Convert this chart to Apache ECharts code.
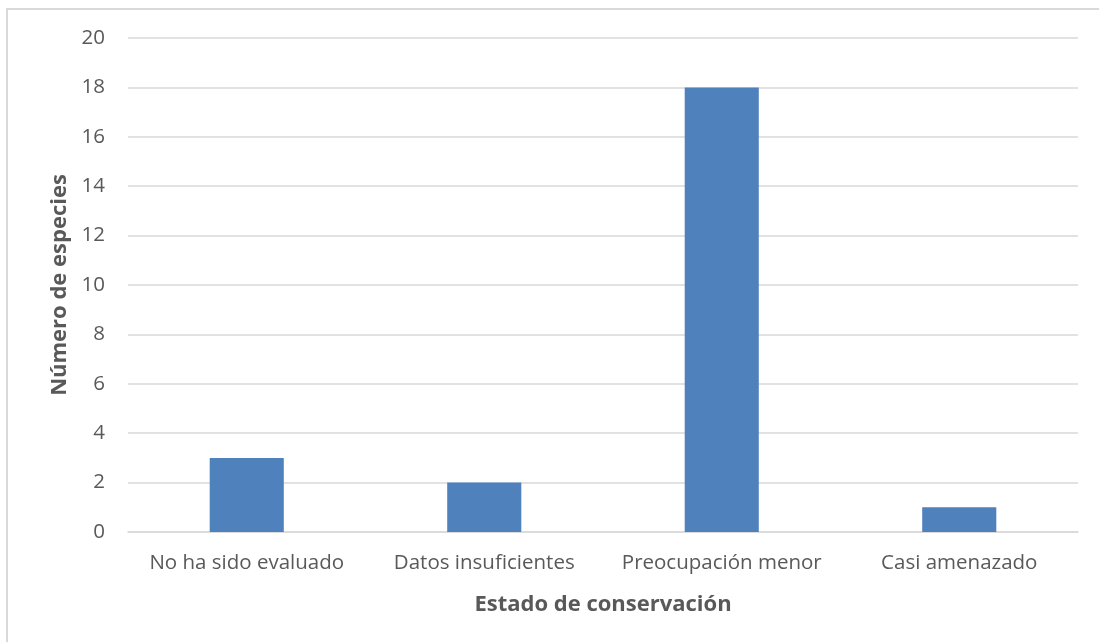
<!DOCTYPE html>
<html>
<head>
<meta charset="utf-8">
<script src="https://cdn.jsdelivr.net/npm/echarts@6/dist/echarts.min.js"></script>
<style>
  html, body { margin: 0; padding: 0; background: #ffffff; }
  #frame { position: absolute; left: 6px; top: 8px; width: 1200px; height: 800px;
           border-left: 2px solid #d9d9d9; border-top: 2px solid #d9d9d9; box-sizing: border-box; }
  #chart { position: absolute; left: 0; top: 0; width: 1099px; height: 642px; }
</style>
</head>
<body>
<div id="frame"></div>
<div id="chart"></div>
<script>
// Conservation status categories and species counts
const categories = ['No ha sido evaluado', 'Datos insuficientes', 'Preocupación menor', 'Casi amenazado'];
const speciesCounts = [3, 2, 18, 1];
const yTicks = { min: 0, max: 20, interval: 2 };

const textColor = '#595959';
const gridColor = '#d9d9d9';
const fontFamily = '"Open Sans", "Liberation Sans", sans-serif';

const chart = echarts.init(document.getElementById('chart'), null, { renderer: 'canvas' });
chart.setOption({
  animation: false,
  backgroundColor: 'transparent',
  grid: { left: 128, right: 21, top: 38, bottom: 110, containLabel: false },
  xAxis: {
    type: 'category',
    data: categories,
    name: 'Estado de conservación',
    nameLocation: 'middle',
    nameGap: 62,
    nameTextStyle: { color: textColor, fontSize: 22, fontWeight: 'bold', fontFamily },
    axisLine: { lineStyle: { color: gridColor, width: 1.5 } },
    axisTick: { show: false },
    axisLabel: { color: textColor, fontSize: 20.5, fontFamily, margin: 21, interval: 0, hideOverlap: false }
  },
  yAxis: {
    type: 'value',
    min: yTicks.min,
    max: yTicks.max,
    interval: yTicks.interval,
    name: 'Número de especies',
    nameLocation: 'middle',
    nameGap: 56,
    nameTextStyle: { color: textColor, fontSize: 22, fontWeight: 'bold', fontFamily },
    axisLine: { show: false },
    axisTick: { show: false },
    axisLabel: { color: textColor, fontSize: 20.5, fontFamily, margin: 23 },
    splitLine: { lineStyle: { color: gridColor, width: 1.5 } }
  },
  series: [{
    type: 'bar',
    data: speciesCounts,
    barWidth: '31.2%',
    itemStyle: { color: '#4f81bd' }
  }]
});
</script>
</body>
</html>
